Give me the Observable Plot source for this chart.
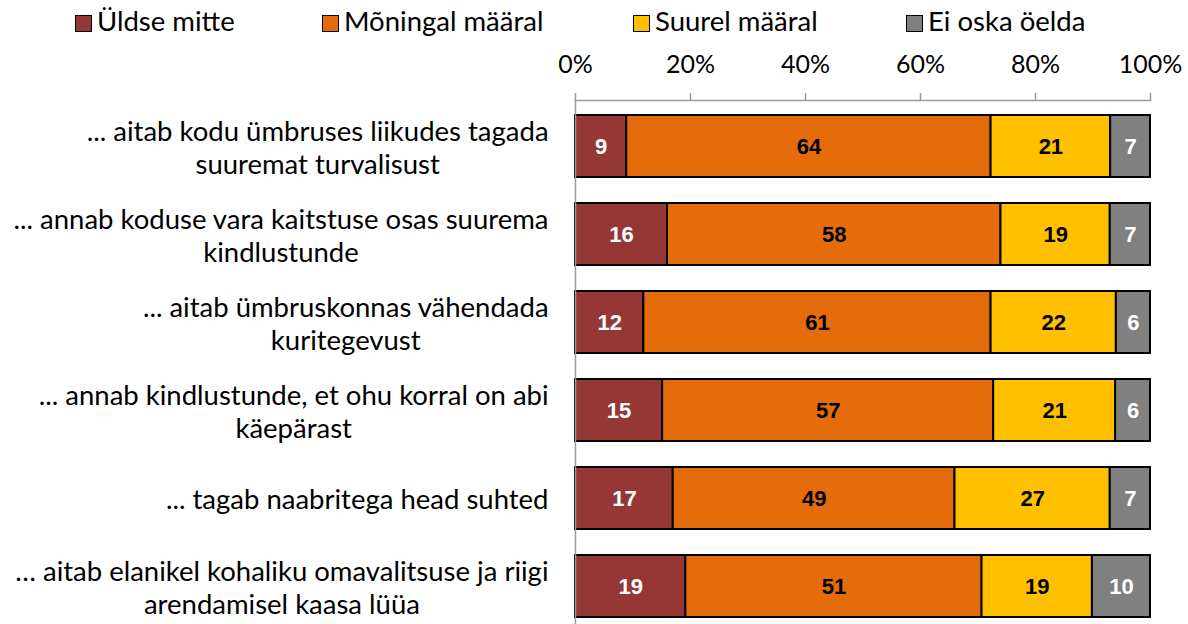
<!DOCTYPE html>
<html>
<head>
<meta charset="utf-8">
<script src="https://cdn.jsdelivr.net/npm/d3@7"></script>
<script src="https://cdn.jsdelivr.net/npm/@observablehq/plot@0.6"></script>
<style>
  html, body { margin: 0; padding: 0; background: #fff; }
  body { width: 1188px; height: 624px; overflow: hidden; font-family: Lato, "Open Sans", sans-serif; }
  #legend { position: relative; width: 1188px; height: 46px; }
  .item { position: absolute; top: 0; height: 46px; font-size: 27.5px; color: #000; white-space: nowrap; }
  .sw { position: absolute; top: 15px; width: 15px; height: 15px; border: 1.5px solid #000; }
  .lab { position: absolute; top: 4px; line-height: 34px; }
  #chart svg { display: block; }
</style>
</head>
<body>
<div id="legend"></div>
<div id="chart"></div>
<script>
// ---- data ----
const statements = [
  "... aitab kodu ümbruses liikudes tagada\nsuuremat turvalisust",
  "... annab koduse vara kaitstuse osas suurema\nkindlustunde",
  "... aitab ümbruskonnas vähendada\nkuritegevust",
  "... annab kindlustunde, et ohu korral on abi\nkäepärast",
  "... tagab naabritega head suhted",
  "… aitab elanikel kohaliku omavalitsuse ja riigi\narendamisel kaasa lüüa"
];
const categories = ["Üldse mitte", "Mõningal määral", "Suurel määral", "Ei oska öelda"];
const colors = ["#953735", "#E46C0A", "#FFC000", "#808080"];
const uldseMitte = [9, 16, 12, 15, 17, 19];
const moningalMaaral = [64, 58, 61, 57, 49, 51];
const suurelMaaral = [21, 19, 22, 21, 27, 19];
const eiOskaOelda = [7, 7, 6, 6, 7, 10];
const xTicks = [0, 20, 40, 60, 80, 100];
const whiteLabelCats = ["Üldse mitte", "Ei oska öelda"];

const series = [uldseMitte, moningalMaaral, suurelMaaral, eiOskaOelda];
const rows = statements.flatMap((s, i) =>
  series.map((vals, j) => ({statement: s, category: categories[j], value: vals[i]}))
);

// ---- legend ----
const legendX = [75, 322, 633, 906];
const legend = document.getElementById("legend");
categories.forEach((c, i) => {
  const it = document.createElement("div");
  it.className = "item";
  it.style.left = legendX[i] + "px";
  const sw = document.createElement("span");
  sw.className = "sw";
  sw.style.left = "0px";
  sw.style.background = colors[i];
  const lab = document.createElement("span");
  lab.className = "lab";
  lab.style.left = "22px";
  lab.textContent = c;
  it.appendChild(sw); it.appendChild(lab);
  legend.appendChild(it);
});

// ---- chart ----
const stackOpts = {x: "value", y: "statement", z: "category", offset: "normalize", order: categories};
const numFont = "'Liberation Sans Narrow', 'Liberation Sans', Arial, sans-serif";
const chart = Plot.plot({
  width: 1188,
  height: 578,
  marginLeft: 575,
  marginRight: 38,
  marginTop: 54,
  marginBottom: 0,
  style: {fontFamily: "Lato, 'Open Sans', sans-serif", background: "#fff", overflow: "visible"},
  x: {domain: [0, 1]},
  y: {
    domain: statements,
    range: [54, 587],
    paddingInner: 0.29,
    paddingOuter: 0.146,
    axis: null
  },
  color: {domain: categories, range: colors},
  marks: [
    Plot.axisX({
      anchor: "top",
      ticks: xTicks.map(d => d / 100),
      tickFormat: d => Math.round(d * 100) + "%",
      tickSize: 8,
      tickPadding: 20,
      stroke: "#9a9a9a",
      strokeWidth: 1.5,
      fill: "#000",
      fontSize: 25,
      label: null
    }),
    Plot.frame({anchor: "top", stroke: "#9a9a9a", strokeWidth: 1.5}),
    Plot.barX(rows, Plot.stackX({...stackOpts, fill: "category", stroke: "#000", strokeWidth: 2})),
    Plot.ruleX([0], {stroke: "#9a9a9a", strokeWidth: 1.5}),
    Plot.text(rows, Plot.stackX({
      ...stackOpts,
      text: d => whiteLabelCats.includes(d.category) ? String(d.value) : "",
      fill: "#fff",
      fontWeight: "bold",
      fontSize: 22,
      fontFamily: numFont
    })),
    Plot.text(rows, Plot.stackX({
      ...stackOpts,
      text: d => whiteLabelCats.includes(d.category) ? "" : String(d.value),
      fill: "#000",
      fontWeight: "bold",
      fontSize: 22,
      fontFamily: numFont
    })),
    Plot.text(statements, {
      x: 0,
      y: d => d,
      text: d => d,
      textAnchor: "end",
      lineAnchor: "middle",
      lineHeight: 1.2,
      dx: -27,
      fontSize: 27.5,
      fill: "#000",
      className: "ylabels"
    })
  ]
});
document.getElementById("chart").appendChild(chart);

// center each line of the multi-line category labels within its block (as in the original)
chart.querySelectorAll(".ylabels text").forEach(t => {
  const tspans = t.querySelectorAll("tspan");
  if (tspans.length < 2) return;
  const bb = t.getBBox();
  const cx = bb.x + bb.width / 2;
  t.setAttribute("text-anchor", "middle");
  tspans.forEach(ts => ts.setAttribute("x", cx));
});
</script>
</body>
</html>
